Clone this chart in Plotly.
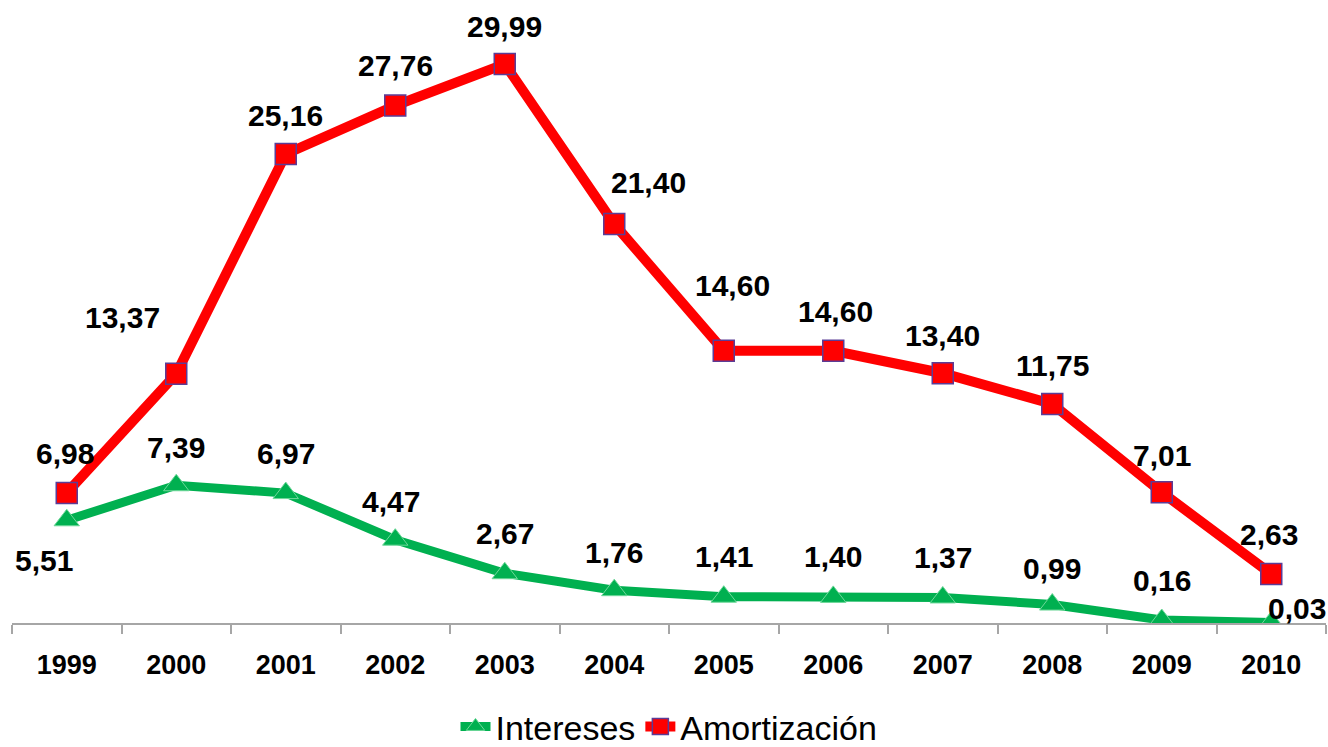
import plotly.graph_objects as go

years = ["1999", "2000", "2001", "2002", "2003", "2004", "2005", "2006", "2007", "2008", "2009", "2010"]
intereses = [5.51, 7.39, 6.97, 4.47, 2.67, 1.76, 1.41, 1.40, 1.37, 0.99, 0.16, 0.03]
amortizacion = [6.98, 13.37, 25.16, 27.76, 29.99, 21.40, 14.60, 14.60, 13.40, 11.75, 7.01, 2.63]

# label pixel offsets (styling)
amort_shift = [(-2, 39), (-54, 56), (0, 39), (0, 40), (0, 37), (34, 42), (9, 65), (2, 39), (0, 38), (0, 38), (0, 37), (-2, 39)]
inter_shift = [(-23, -40), (0, 38), (0, 40), (-4, 38), (0, 40), (0, 38), (0, 40), (0, 40), (0, 40), (0, 36), (0, 40), (26, 14)]

FONT = "Liberation Sans, Arial, sans-serif"

def fmt(v):
    return "<b>" + f"{v:.2f}".replace(".", ",") + "</b>"

fig = go.Figure()
fig.add_trace(go.Scatter(
    x=years, y=intereses, name="Intereses", mode="lines+markers",
    line=dict(color="#00B050", width=9),
    marker=dict(symbol="triangle-up", size=22, color="#00B050", line=dict(color="#6fd89a", width=1)),
))
fig.add_trace(go.Scatter(
    x=years, y=amortizacion, name="Amortización", mode="lines+markers",
    line=dict(color="#FF0000", width=10),
    marker=dict(symbol="square", size=21, color="#FF0000", line=dict(color="#5b3c96", width=1.5)),
))

annotations = []
for i, (v, (dx, dy)) in enumerate(zip(amortizacion, amort_shift)):
    annotations.append(dict(x=i, y=v, xref="x", yref="y", text=fmt(v), showarrow=False,
                            xshift=dx, yshift=dy,
                            font=dict(family=FONT, size=30, color="black")))
for i, (v, (dx, dy)) in enumerate(zip(intereses, inter_shift)):
    annotations.append(dict(x=i, y=v, xref="x", yref="y", text=fmt(v), showarrow=False,
                            xshift=dx, yshift=dy,
                            font=dict(family=FONT, size=30, color="black")))

fig.update_layout(
    width=1328, height=747,
    margin=dict(l=12, r=2, t=20, b=124, autoexpand=False),
    paper_bgcolor="white", plot_bgcolor="white",
    annotations=annotations,
    showlegend=True,
    legend=dict(orientation="h", x=0.5, xanchor="center", yref="container", y=0.027, yanchor="middle",
                font=dict(family=FONT, size=34, color="black")),
    xaxis=dict(type="category", showgrid=False, showline=True, linecolor="#a6a6a6", linewidth=2,
               ticks="outside", tickson="boundaries", ticklen=9, tickcolor="#a6a6a6", tickwidth=2,
               tickfont=dict(family=FONT, size=27, color="black", weight="bold"),
               range=[-0.5, 11.5], zeroline=False, ticklabelstandoff=17, automargin=False),
    yaxis=dict(visible=False, range=[0, 32.35], showgrid=False, zeroline=False, automargin=False),
)

fig.write_html("out.html", config={"displayModeBar": False},
               post_script="document.body.style.margin='0';document.body.style.overflow='hidden';")
